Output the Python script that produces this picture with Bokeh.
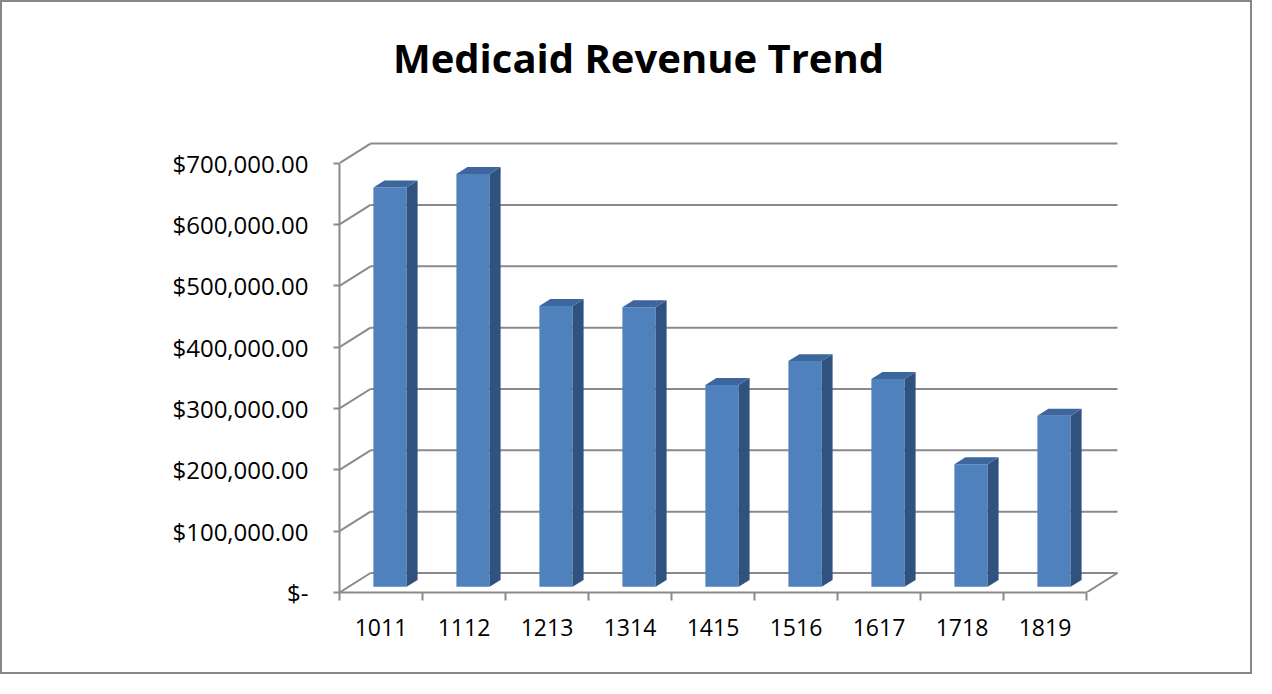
from bokeh.plotting import figure
from bokeh.models import FixedTicker, Range1d
from bokeh.core.properties import value
from bokeh.embed import file_html
from bokeh.resources import INLINE

# ---- data ----
categories = ["1011", "1112", "1213", "1314", "1415", "1516", "1617", "1718", "1819"]
revenue = [651000, 673000, 458000, 456000, 329000, 368000, 339000, 200000, 279000]
y_ticks = [0, 100000, 200000, 300000, 400000, 500000, 600000, 700000]
y_tick_labels = ["$-", "$100,000.00", "$200,000.00", "$300,000.00", "$400,000.00",
                 "$500,000.00", "$600,000.00", "$700,000.00"]
title_text = "Medicaid Revenue Trend"

# ---- layout ----
W, H = 1252, 674
frame_left, frame_w, frame_h = 337, 789, 590
px_x = 83.0               # pixels per category
px_y = 61.34 / 100000.0   # pixels per dollar

depth_dx = 31.0 / px_x     # full depth offset in data units
depth_dy = 19.5 / px_y
d0 = 0.29                  # bar front depth
d_bar = 0.355              # bar depth extent
half_w = 0.2

grid_color = "#8a8a8a"
front_color = "#4f81bd"
side_color = "#30527f"
top_color = "#3d669c"

p = figure(width=W, height=H,
           x_range=Range1d(0, frame_w / px_x),
           y_range=Range1d(0, frame_h / px_y),
           output_backend="svg", toolbar_location=None,
           min_border_left=frame_left, min_border_right=W - frame_left - frame_w,
           min_border_top=0, min_border_bottom=H - frame_h)
p.grid.visible = False
p.outline_line_color = None
p.styles = {"border": "2px solid #868686"}

n = len(categories)

# back wall gridlines
p.segment(x0=[depth_dx] * len(y_ticks), y0=[t + depth_dy for t in y_ticks],
          x1=[n + depth_dx] * len(y_ticks), y1=[t + depth_dy for t in y_ticks],
          line_color=grid_color, line_width=2)
# left wall diagonals
p.segment(x0=[0] * len(y_ticks), y0=y_ticks,
          x1=[depth_dx] * len(y_ticks), y1=[t + depth_dy for t in y_ticks],
          line_color=grid_color, line_width=2)
# floor right edge
p.segment(x0=[n], y0=[0], x1=[n + depth_dx], y1=[depth_dy],
          line_color=grid_color, line_width=2)

# bars
base = d0 * depth_dy
xc = [i + 0.5 + d0 * depth_dx for i in range(n)]
tops = [base + v for v in revenue]
sx = d_bar * depth_dx
sy = d_bar * depth_dy

p.vbar(x=xc, width=2 * half_w, bottom=base, top=tops,
       fill_color=front_color, line_color=None)

side_xs, side_ys, top_xs, top_ys = [], [], [], []
for c, t in zip(xc, tops):
    xl, xr = c - half_w, c + half_w
    side_xs.append([xr, xr + sx, xr + sx, xr])
    side_ys.append([base, base + sy, t + sy, t])
    top_xs.append([xl, xr, xr + sx, xl + sx])
    top_ys.append([t, t, t + sy, t + sy])
p.patches(xs=side_xs, ys=side_ys, fill_color=side_color, line_color=None)
p.patches(xs=top_xs, ys=top_ys, fill_color=top_color, line_color=None)

# title
p.text(x=[(636 - frame_left) / px_x], y=[(frame_h - 55) / px_y], text=[title_text],
       text_font=value("Open Sans"), text_font_style="bold", text_font_size="40px",
       text_align="center", text_baseline="middle", text_color="black")

# y axis
ya = p.yaxis[0]
ya.ticker = FixedTicker(ticks=y_ticks)
ya.major_label_overrides = {t: l for t, l in zip(y_ticks, y_tick_labels)}
ya.bounds = (0, 700000)
ya.axis_line_color = grid_color
ya.axis_line_width = 2
ya.major_tick_line_color = grid_color
ya.major_tick_line_width = 2
ya.major_tick_out = 6
ya.major_tick_in = 0
ya.minor_tick_line_color = None
ya.major_label_text_font = "Open Sans"
ya.major_label_text_font_size = "24px"
ya.major_label_text_color = "black"
ya.major_label_standoff = 25

# x axis
xa = p.xaxis[0]
xa.ticker = FixedTicker(ticks=[i + 0.5 for i in range(n)], minor_ticks=list(range(n + 1)))
xa.major_label_overrides = {i + 0.5: c for i, c in enumerate(categories)}
xa.bounds = (0, n)
xa.axis_line_color = grid_color
xa.axis_line_width = 2
xa.major_tick_line_color = None
xa.major_tick_out = 8
xa.major_tick_in = 0
xa.minor_tick_line_color = grid_color
xa.minor_tick_line_width = 2
xa.minor_tick_out = 8
xa.minor_tick_in = 0
xa.major_label_text_font = "Open Sans"
xa.major_label_text_font_size = "23px"
xa.major_label_text_color = "black"
xa.major_label_standoff = 18

open("out.html", "w").write(file_html(p, INLINE))
